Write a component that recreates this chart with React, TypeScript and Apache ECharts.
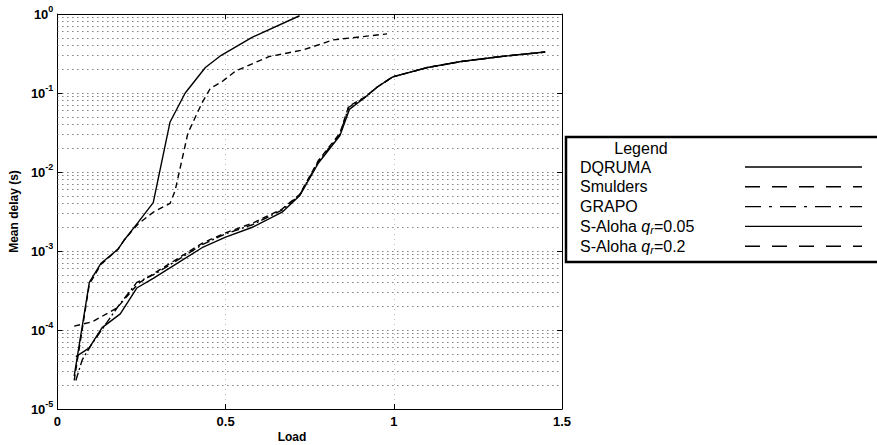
import React, { useEffect, useRef } from "react";
import * as echarts from "echarts";

const seriesNames = ["DQRUMA", "Smulders", "GRAPO", "S-Aloha q_r=0.05", "S-Aloha q_r=0.2"];

const dqrumaLoad = [0.055, 0.094, 0.133, 0.187, 0.236, 0.285, 0.43, 0.5, 0.58, 0.668, 0.72, 0.776, 0.84, 0.868, 0.913, 0.952, 0.997, 1.1, 1.2, 1.32, 1.45];
const dqrumaDelay = [4.6e-5, 5.9e-5, 1.07e-4, 1.6e-4, 3.4e-4, 4.5e-4, 1.1e-3, 1.5e-3, 2.0e-3, 3.1e-3, 5.0e-3, 0.013, 0.029, 0.062, 0.087, 0.12, 0.16, 0.21, 0.25, 0.29, 0.33];

const smuldersLoad = [0.05, 0.104, 0.177, 0.241, 0.29, 0.43, 0.5, 0.58, 0.668, 0.72, 0.776, 0.84, 0.866, 0.913, 0.952, 0.997, 1.1, 1.2, 1.32, 1.45];
const smuldersDelay = [1.12e-4, 1.27e-4, 1.9e-4, 3.9e-4, 5.3e-4, 1.25e-3, 1.7e-3, 2.25e-3, 3.4e-3, 5.2e-3, 0.014, 0.031, 0.068, 0.088, 0.12, 0.16, 0.21, 0.25, 0.29, 0.33];

const grapoLoad = [0.055, 0.074, 0.104, 0.153, 0.177, 0.236, 0.29, 0.43, 0.5, 0.58, 0.668, 0.72, 0.776, 0.84, 0.866, 0.913, 0.952, 0.997, 1.1, 1.2, 1.32, 1.45];
const grapoDelay = [2.3e-5, 4.2e-5, 6.8e-5, 1.35e-4, 1.9e-4, 4.0e-4, 5.1e-4, 1.2e-3, 1.65e-3, 2.15e-3, 3.3e-3, 5.1e-3, 0.0135, 0.03, 0.066, 0.087, 0.12, 0.16, 0.21, 0.25, 0.29, 0.33];

const aloha05Load = [0.05, 0.095, 0.13, 0.18, 0.2, 0.24, 0.285, 0.335, 0.38, 0.44, 0.487, 0.58, 0.72];
const aloha05Delay = [2.6e-5, 4.0e-4, 7.0e-4, 1.05e-3, 1.4e-3, 2.3e-3, 4.1e-3, 4.3e-2, 0.1, 0.21, 0.3, 0.51, 0.95];

const aloha2Load = [0.05, 0.095, 0.13, 0.18, 0.2, 0.24, 0.285, 0.335, 0.35, 0.388, 0.43, 0.455, 0.49, 0.53, 0.63, 0.73, 0.82, 0.98];
const aloha2Delay = [2.3e-5, 3.8e-4, 6.8e-4, 1.05e-3, 1.4e-3, 2.2e-3, 3.1e-3, 4.0e-3, 5.8e-3, 0.031, 0.075, 0.115, 0.14, 0.19, 0.29, 0.35, 0.47, 0.56];

const xTicks = [0, 0.5, 1, 1.5];
const minorMultipliers = [2, 3, 4, 5, 6, 7, 8, 9];
const minorDecades = [-5, -4, -3, -2, -1];

const FONT = "'Liberation Sans', Arial, Helvetica, sans-serif";

const zip = (xs: number[], ys: number[]) => xs.map((x, i) => [x, ys[i]]);

const lineDashes: (string | number[])[] = ["solid", [6, 4], [8, 3, 2, 3], "solid", [6, 4]];
const legendDashes: (null | number[])[] = [null, [15, 12], [16, 8, 3, 8], null, [15, 12]];
const seriesData = [
  zip(dqrumaLoad, dqrumaDelay),
  zip(smuldersLoad, smuldersDelay),
  zip(grapoLoad, grapoDelay),
  zip(aloha05Load, aloha05Delay),
  zip(aloha2Load, aloha2Delay),
];

export default function App() {
  const ref = useRef<HTMLDivElement>(null);
  useEffect(() => {
    if (!ref.current) return;
    const chart = echarts.init(ref.current, null, { renderer: "svg" });
    const minorValues: number[] = [];
    minorDecades.forEach((d) => minorMultipliers.forEach((m) => minorValues.push(m * Math.pow(10, d))));

    const legendX = 566;
    const legendY = 137;
    const rowY0 = 167;
    const rowStep = 19.8;
    const legendGraphics: any[] = [
      {
        type: "rect",
        shape: { x: legendX, y: legendY, width: 330, height: 125 },
        style: { fill: "#fff", stroke: "#000", lineWidth: 2.5 },
        z: 10,
      },
      {
        type: "text",
        x: 641,
        y: 148,
        style: { text: "Legend", font: `16px ${FONT}`, fill: "#000", align: "center", verticalAlign: "middle" },
        z: 11,
      },
    ];
    seriesNames.forEach((name, i) => {
      const y = rowY0 + i * rowStep;
      let text = name;
      if (name.includes("q_r")) {
        text = name.replace("q_r", "{q|q}{r|r}");
      }
      legendGraphics.push({
        type: "text",
        x: 580,
        y,
        style: {
          text,
          font: `16px ${FONT}`,
          fill: "#000",
          align: "left",
          verticalAlign: "middle",
          rich: {
            q: { fontStyle: "italic", fontSize: 16, fontFamily: FONT },
            r: { fontStyle: "italic", fontSize: 11, fontFamily: FONT, padding: [7, 0, 0, 0] },
          },
        },
        z: 11,
      });
      legendGraphics.push({
        type: "line",
        shape: { x1: 745, y1: y, x2: 862, y2: y },
        style: { stroke: "#000", lineWidth: 1.4, lineDash: legendDashes[i] },
        z: 11,
      });
    });

    const option: any = {
      animation: false,
      backgroundColor: "#fff",
      grid: { left: 53, right: 315, top: 14, bottom: 36, show: false },
      xAxis: [
        {
          type: "value",
          min: 0,
          max: 1.5,
          interval: 0.5,
          axisLine: { show: true, onZero: false, lineStyle: { color: "#000", width: 1 } },
          axisTick: { show: true, inside: true, length: 5, lineStyle: { color: "#000" } },
          axisLabel: {
            color: "#000",
            fontFamily: FONT,
            fontWeight: "bold",
            fontSize: 13,
            margin: 6,
            formatter: (v: number) => (xTicks.includes(v) ? String(v) : ""),
          },
          splitLine: { show: true, lineStyle: { type: [1, 4], color: "#bbb", width: 1 } },
        },
        {
          type: "value",
          position: "top",
          min: 0,
          max: 1.5,
          interval: 0.5,
          axisLine: { show: true, onZero: false, lineStyle: { color: "#000", width: 1 } },
          axisTick: { show: true, inside: true, length: 5, lineStyle: { color: "#000" } },
          axisLabel: { show: false },
          splitLine: { show: false },
        },
      ],
      yAxis: [
        {
          type: "log",
          logBase: 10,
          min: 1e-5,
          max: 1,
          axisLine: { show: true, onZero: false, lineStyle: { color: "#000", width: 1 } },
          axisTick: { show: true, inside: true, length: 5, lineStyle: { color: "#000" } },
          axisLabel: {
            color: "#000",
            margin: 4,
            formatter: (v: number) => `{b|10}{s|${Math.round(Math.log10(v))}}`,
            rich: {
              b: { fontSize: 13, fontWeight: "bold", fontFamily: FONT, color: "#000" },
              s: { fontSize: 9, fontWeight: "bold", fontFamily: FONT, color: "#000", padding: [0, 0, 11, 0] },
            },
          },
          splitLine: { show: true, lineStyle: { type: [1, 4], color: "#444", width: 1 } },
          name: "Mean delay (s)",
          nameLocation: "middle",
          nameGap: 33,
          nameTextStyle: { color: "#000", fontFamily: FONT, fontWeight: "bold", fontSize: 12 },
        },
        {
          type: "log",
          logBase: 10,
          min: 1e-5,
          max: 1,
          position: "right",
          axisLine: { show: true, onZero: false, lineStyle: { color: "#000", width: 1 } },
          axisTick: { show: true, inside: true, length: 5, lineStyle: { color: "#000" } },
          axisLabel: { show: false },
          splitLine: { show: false },
        },
      ],
      graphic: [
        {
          type: "text",
          x: 292,
          y: 437,
          style: { text: "Load", font: `bold 12px ${FONT}`, fill: "#000", align: "center", verticalAlign: "middle" },
        },
        ...legendGraphics,
      ],
      series: seriesData.map((data, i) => {
        const s: any = {
          name: seriesNames[i],
          type: "line",
          data,
          xAxisIndex: 0,
          yAxisIndex: 0,
          symbol: "none",
          showSymbol: false,
          silent: true,
          z: 5,
          lineStyle: { color: "#000", width: 1.4, type: lineDashes[i] },
        };
        if (i === 0) {
          s.markLine = {
            silent: true,
            precision: 10,
            symbol: ["none", "none"],
            label: { show: false },
            z: 1,
            lineStyle: { type: [1, 4], color: "#444", width: 1 },
            emphasis: { disabled: true },
            data: minorValues.map((v) => ({ yAxis: v })),
          };
        }
        return s;
      }),
    };
    chart.setOption(option);
    return () => chart.dispose();
  }, []);
  return <div ref={ref} style={{ position: "fixed", left: 0, top: 0, width: 877, height: 445 }} />;
}
